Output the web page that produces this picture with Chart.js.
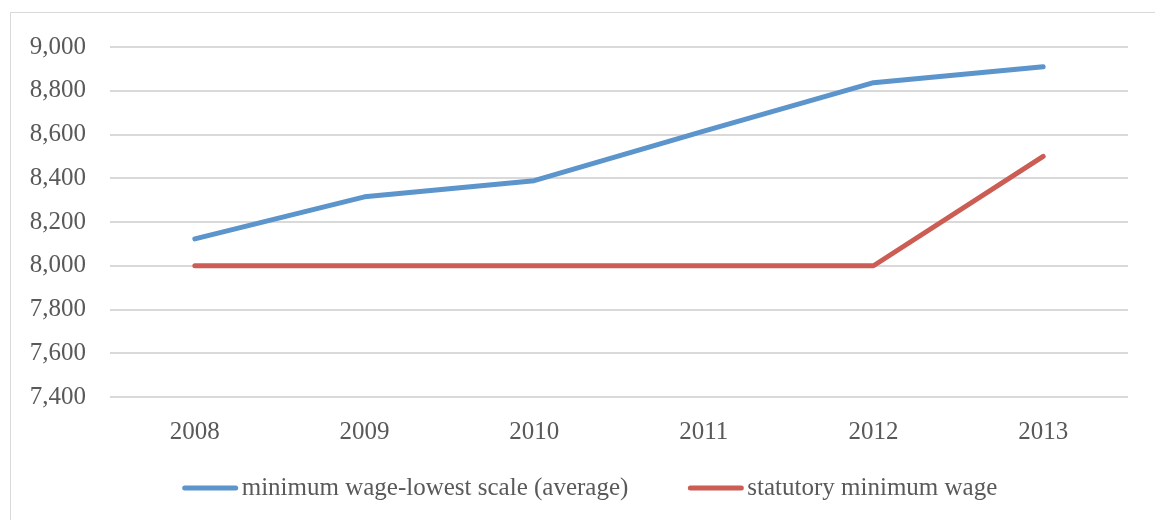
<!DOCTYPE html>
<html>
<head>
  <title>Minimum wage</title>
  <script src="https://cdn.jsdelivr.net/npm/chart.js"></script>
  <style>
    html, body {
      margin: 0;
      padding: 0;
      background: #fff;
    }
    #wrap {
      position: relative;
      width: 1155px;
      height: 520px;
      overflow: hidden;
    }
    #frame {
      position: absolute;
      left: 10px;
      top: 12px;
      width: 1300px;
      height: 700px;
      border: 1px solid #d9d9d9;
    }
    #wage_chart {
      position: absolute;
      left: 0;
      top: 0;
    }
  </style>
</head>
<body>

<div id="wrap">
  <div id="frame"></div>
  <canvas id="wage_chart" width="1155" height="520"></canvas>
</div>

<script>
  const years = ['2008', '2009', '2010', '2011', '2012', '2013'];
  const lowestScale = [8123, 8315, 8389, 8615, 8837, 8910];
  const statutory = [8000, 8000, 8000, 8000, 8000, 8500];
  const seriesNames = ['minimum wage-lowest scale (average)', 'statutory minimum wage'];

  const FONT = "'Liberation Serif', serif";
  const TEXT = '#595959';

  // legend drawn under the x axis: short thick line, then the label
  const lineLegend = {
    id: 'lineLegend',
    afterDraw(chart) {
      const ctx = chart.ctx;
      const segW = 55, gapText = 4, gapItem = 60, y = 488;
      ctx.save();
      ctx.font = '25px ' + FONT;
      const items = chart.data.datasets.map(ds => ({
        ds: ds,
        w: ctx.measureText(ds.label).width
      }));
      let total = 0;
      items.forEach((it, i) => {
        total += segW + gapText + it.w + (i ? gapItem : 0);
      });
      let x = 590 - total / 2;
      items.forEach(it => {
        ctx.strokeStyle = it.ds.borderColor;
        ctx.lineWidth = 5;
        ctx.lineCap = 'round';
        ctx.beginPath();
        ctx.moveTo(x + 2, y);
        ctx.lineTo(x + segW - 2, y);
        ctx.stroke();
        ctx.fillStyle = TEXT;
        ctx.textBaseline = 'middle';
        ctx.textAlign = 'left';
        ctx.fillText(it.ds.label, x + segW + gapText, y);
        x += segW + gapText + it.w + gapItem;
      });
      ctx.restore();
    }
  };

  const ctx = document.getElementById('wage_chart').getContext('2d');
  new Chart(ctx, {
    type: 'line',
    data: {
      labels: years,
      datasets: [{
        label: seriesNames[0],
        data: lowestScale,
        borderColor: '#5C94CC',
        backgroundColor: '#5C94CC',
        borderWidth: 5,
        pointRadius: 0,
        borderCapStyle: 'round',
        borderJoinStyle: 'round',
        tension: 0
      }, {
        label: seriesNames[1],
        data: statutory,
        borderColor: '#CC5D55',
        backgroundColor: '#CC5D55',
        borderWidth: 5,
        pointRadius: 0,
        borderCapStyle: 'round',
        borderJoinStyle: 'round',
        tension: 0
      }]
    },
    options: {
      responsive: false,
      animation: false,
      layout: {
        padding: { left: 0, right: 27, top: 47, bottom: 73 }
      },
      scales: {
        x: {
          offset: true,
          grid: { display: false, drawTicks: false },
          border: { display: false },
          ticks: {
            color: TEXT,
            font: { family: FONT, size: 25 },
            padding: 20,
            maxRotation: 0
          },
          afterFit(scale) { scale.height = 50; }
        },
        y: {
          min: 7400,
          max: 9000,
          grid: { color: '#d9d9d9', lineWidth: 2, drawTicks: false },
          border: { display: false },
          ticks: {
            stepSize: 200,
            color: TEXT,
            font: { family: FONT, size: 25 },
            padding: 24,
            callback: v => v.toLocaleString('en-US')
          },
          afterFit(scale) { scale.width = 110; }
        }
      },
      plugins: {
        legend: { display: false },
        tooltip: { enabled: false }
      }
    },
    plugins: [lineLegend]
  });
</script>
</body>
</html>
